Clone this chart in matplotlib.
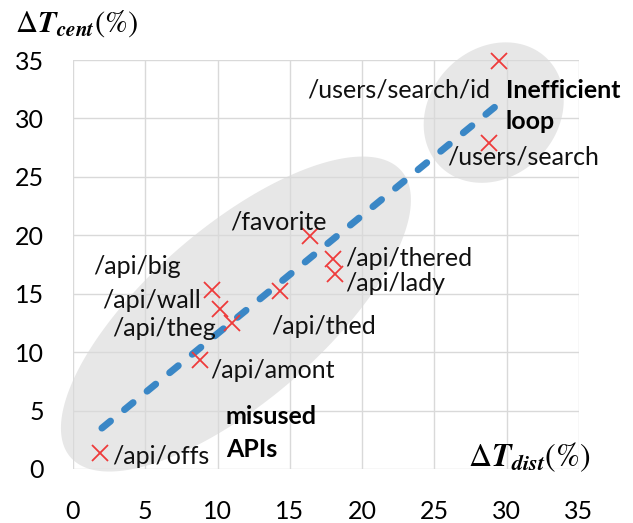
import numpy as np
import matplotlib
matplotlib.use("Agg")
import matplotlib.pyplot as plt

# ---------------- data ----------------
endpoints = ["/api/offs", "/api/amont", "/api/big", "/api/wall", "/api/theg",
             "/api/thed", "/favorite", "/api/thered", "/api/lady",
             "/users/search/id", "/users/search"]
dt_dist = [1.9, 8.8, 9.6, 10.2, 11.0, 14.3, 16.4, 18.0, 18.1, 29.5, 28.8]
dt_cent = [1.4, 9.3, 15.3, 13.7, 12.5, 15.2, 19.9, 18.0, 16.7, 34.9, 27.9]

trend_x = [2.0, 29.4]
trend_y = [3.5, 31.2]

x_ticks = [0, 5, 10, 15, 20, 25, 30, 35]
y_ticks = [0, 5, 10, 15, 20, 25, 30, 35]

# ---------------- layout ----------------
label_pos = {
    "/api/offs": (2.68, 1.05),
    "/api/amont": (9.48, 8.47),
    "/api/big": (1.40, 17.31),
    "/api/wall": (1.99, 14.46),
    "/api/theg": (2.68, 12.04),
    "/api/thed": (13.74, 12.18),
    "/favorite": (10.86, 21.16),
    "/api/thered": (18.81, 18.03),
    "/api/lady": (18.81, 15.89),
    "/users/search/id": (16.19, 32.43),
    "/users/search": (25.85, 26.72),
}

plt.rcParams['font.family'] = ['Lato', 'DejaVu Sans']
plt.rcParams['mathtext.fontset'] = 'stix'

fig = plt.figure(figsize=(6.33, 5.23), dpi=100)
ax = fig.add_axes([73/633, 1-469/523, (579-73)/633, (469-60)/523])

ax.set_xlim(0, 35)
ax.set_ylim(0, 35)
ax.set_xticks(x_ticks)
ax.set_yticks(y_ticks)
ax.tick_params(length=0, labelsize=18, colors='black')
ax.tick_params(axis='y', pad=21)
ax.tick_params(axis='x', pad=22)
for s in ax.spines.values():
    s.set_visible(False)
ax.set_axisbelow(True)
ax.grid(True, color='#d9d9d9', linewidth=1.0)

# pixel scale of data units (for drawing undistorted rotated ellipses)
sx = (579-73)/35.0
sy = (469-60)/35.0

def ellipse(cx, cy, a, b, theta_deg, **kw):
    t = np.linspace(0, 2*np.pi, 300)
    th = np.deg2rad(theta_deg)
    px = a*np.cos(t)*np.cos(th) - b*np.sin(t)*np.sin(th)
    py = a*np.cos(t)*np.sin(th) + b*np.sin(t)*np.cos(th)
    ax.fill(cx + px/sx, cy + py/sy, clip_on=False, **kw)

ellipse(11.27, 13.26, 218.8, 86.9, 40.85, color='#e7e7e7', zorder=0.3, lw=0)
ellipse(29.1, 30.5, 75.9, 63.8, 45.5, color='#e7e7e7', zorder=0.3, lw=0)

ax.plot(trend_x, trend_y, color='#3a87c6', linewidth=5,
        dashes=(1.6, 2.6), dash_capstyle='round', zorder=3, clip_on=False)

ax.plot(dt_dist, dt_cent, linestyle='none', marker='x', markersize=12,
        markeredgewidth=1.3, color='#ee3b3b', zorder=4, clip_on=False)

for name in endpoints:
    x, y = label_pos[name]
    ax.text(x, y, name, fontsize=18, ha='left', va='center', color='#111111',
            zorder=5, clip_on=False)

ax.text(29.95, 32.43, "Inefficient", fontsize=18, fontweight='bold',
        ha='left', va='center', zorder=5)
ax.text(29.95, 29.72, "loop", fontsize=18, fontweight='bold',
        ha='left', va='center', zorder=5)
ax.text(10.58, 4.48, "misused", fontsize=18, fontweight='bold',
        ha='left', va='center', zorder=5)
ax.text(10.58, 1.63, "APIs", fontsize=18, fontweight='bold',
        ha='left', va='center', zorder=5)

fig.text(15/633, 1-24/523, r'$\Delta\mathbfit{T}_{\mathbfit{cent}}(\%)$',
         fontsize=22, ha='left', va='center')
fig.text(468/633, 1-457/523, r'$\Delta\mathbfit{T}_{\mathbfit{dist}}(\%)$',
         fontsize=23, ha='left', va='center')

fig.savefig("out.png", dpi=100)
